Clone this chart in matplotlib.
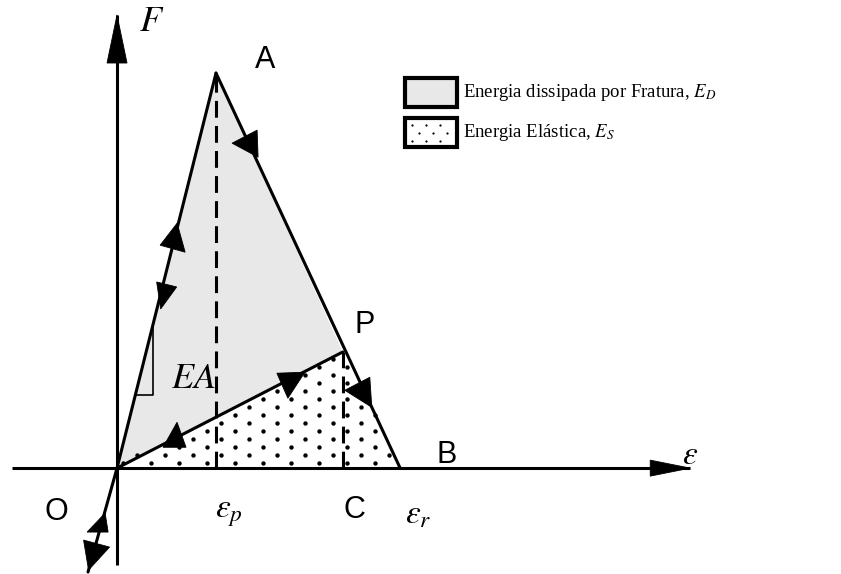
import matplotlib
matplotlib.use("Agg")
import matplotlib.pyplot as plt
import numpy as np
from matplotlib.path import Path
from matplotlib.patches import Polygon, Rectangle

plt.rcParams["mathtext.fontset"] = "stix"

# characteristic points of the load path, normalised by the peak A
point_names = ["O", "A", "P", "B"]
strain = [0.0, 1.0, 2.28, 2.86]
force = [0.0, 1.0, 0.294, 0.0]
# short compressive branch below the origin
tail_strain = -0.293
tail_force = -0.263
# slope triangle drawn against the elastic branch
slope_lo, slope_hi = 0.185, 0.364

legend_labels = ["Energia dissipada por Fratura, $E_D$", "Energia Elástica, $E_S$"]

LW = 2.2
SANS = "Liberation Sans"
SERIF = "Liberation Serif"

fig = plt.figure(figsize=(8.41, 5.74), dpi=100)
ax = fig.add_axes([0, 0, 1, 1])
ax.set_xlim(-1.182, 7.313)
ax.set_ylim(-0.268, 1.185)
ax.axis("off")

O, A, P, B = [np.array(p) for p in zip(strain, force)]
T = np.array([tail_strain, tail_force])


def to_px(p):
    return ax.transData.transform(p)


def from_px(pts):
    return ax.transData.inverted().transform(pts)


def barb(p0, p1, t, offsets):
    # filled arrowhead; offsets in pixels (y pointing down) from a point on p0->p1
    a, b = to_px(p0), to_px(p1)
    anchor = a + t * (b - a)
    verts = [anchor + np.array([dx, -dy]) for dx, dy in offsets]
    ax.add_patch(Polygon(from_px(verts), closed=True, fc="black", ec="black",
                         lw=0.6, zorder=5))


# shaded areas
ax.add_patch(Polygon([O, A, P], closed=True, fc="#e8e8e8", ec="none", zorder=1))
ax.add_patch(Polygon([O, P, B], closed=True, fc="white", ec="none", zorder=1))

# dot pattern for the elastic energy triangle
tri_px = to_px(np.array([O, P, B]))
tri_path = Path(tri_px)
ymin, ymax = tri_px[:, 1].min(), tri_px[:, 1].max()
xmin, xmax = tri_px[:, 0].min(), tri_px[:, 0].max()
dots = []
for i, yy in enumerate(np.arange(ymin + 5, ymax, 8)):
    for xx in np.arange(xmin + 6 + (i % 2) * 14, xmax, 28):
        dots.append((xx, yy))
dots = np.array(dots)
dots = dots[tri_path.contains_points(dots, radius=-5)]
d = from_px(dots)
ax.scatter(d[:, 0], d[:, 1], s=10, c="black", lw=0, zorder=2)

# axes with arrowheads
eps_end, f_end = 5.79, 1.147
ax.plot([-1.06, eps_end], [0, 0], color="black", lw=LW, zorder=3,
        solid_capstyle="butt")
ax.plot([0, 0], [-0.246, f_end], color="black", lw=LW, zorder=3,
        solid_capstyle="butt")
barb(np.array([eps_end, 0]), np.array([eps_end, 0]), 0,
     [(0, 0), (-40, -8), (-40, 8)])
barb(np.array([0, f_end]), np.array([0, f_end]), 0,
     [(0, 0), (-10, 48), (10, 48)])

# load path
for p, q in [(T, O), (O, A), (A, B), (O, P)]:
    ax.plot([p[0], q[0]], [p[1], q[1]], color="black", lw=LW, zorder=4,
            solid_capstyle="round")

# projections of A and P on the strain axis
for p in (A, P):
    ax.plot([p[0], p[0]], [0, p[1]], color="black", lw=LW, zorder=3,
            linestyle=(0, (5.5, 2.7)))

# slope triangle
ax.plot([slope_lo, slope_hi, slope_hi], [slope_lo, slope_lo, slope_hi],
        color="black", lw=1.2, zorder=3)

# direction arrows along the path
barb(O, A, 0.577, [(3, -17), (-14, 5), (11, 12)])
barb(O, A, 0.451, [(-5, -8), (15, -3), (-1, 19)])
barb(A, B, 0.185, [(-18, -3), (7, -16), (8, 11)])
barb(A, B, 0.808, [(-20, -2), (5, -15), (7, 15)])
barb(O, P, 0.757, [(-11, -7), (17, -8), (0, 18)])
barb(O, P, 0.257, [(2, -16), (-12, 9), (11, 9)])
barb(O, T, 0.548, [(4, -12), (-14, 7), (7, 7)])
barb(O, T, 0.808, [(-10, -12), (16, -5), (-5, 18)])


def label(txt, xy, off, size, family=SANS):
    ax.annotate(txt, xy=xy, xytext=off, textcoords="offset points",
                ha="center", va="center", fontsize=size, family=family,
                zorder=6)


label("A", A, (35.3, 9.4), 22)
label("P", P, (15.8, 19.4), 22)
label("B", B, (33.8, 9.4), 22)
label("C", (P[0], 0), (8.6, -30.2), 22)
label("O", O, (-44, -31.7), 22)
label(r"$\varepsilon_p$", (A[0], 0), (9.5, -32.4), 24)
label(r"$\varepsilon_r$", B, (13, -33.8), 24)
label(r"$\varepsilon$", (eps_end, 0), (0, 9.4), 24)
label(r"$F$", (0, f_end), (25.2, -5), 26)
label(r"$EA$", (slope_hi, slope_lo), (29, 12), 26)

# legend
W, H = 841.0, 574.0
box_x, box_w, box_h = 405, 52, 29
for i, (top, text) in enumerate(zip([78, 118], legend_labels)):
    rect = Rectangle((box_x / W, 1 - (top + box_h) / H), box_w / W, box_h / H,
                     transform=fig.transFigure, fc="#e8e8e8" if i == 0 else "white",
                     ec="black", lw=3)
    fig.patches.append(rect)
    fig.text(463 / W, 1 - (top + box_h / 2) / H, text, ha="left", va="center",
             fontsize=13.5, family=SERIF)
    if i == 1:
        bx, by = [], []
        for r, yy in enumerate(np.arange(top + 7, top + box_h - 4, 8)):
            for xx in np.arange(box_x + 7 + (r % 2) * 7, box_x + box_w - 4, 14):
                bx.append(xx / W)
                by.append(1 - yy / H)
        fig.add_artist(plt.Line2D(bx, by, transform=fig.transFigure, ls="none",
                                  marker="o", ms=1.6, color="black", mew=0))

fig.savefig("out.png", dpi=100)
